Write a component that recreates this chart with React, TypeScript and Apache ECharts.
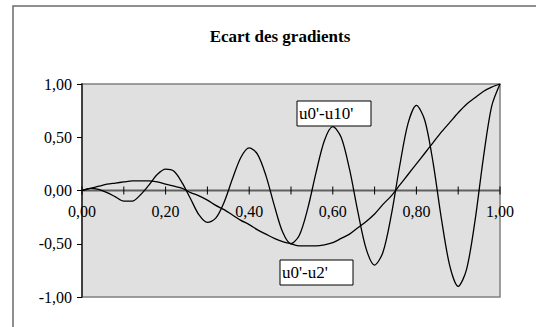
import React, { useEffect, useRef } from "react";
import * as echarts from "echarts";

const xValues = [
  0, 0.02, 0.04, 0.06, 0.08, 0.1, 0.12, 0.14, 0.16, 0.18,
  0.2, 0.22, 0.24, 0.26, 0.28, 0.3, 0.32, 0.34, 0.36, 0.38,
  0.4, 0.42, 0.44, 0.46, 0.48, 0.5, 0.52, 0.54, 0.56, 0.58,
  0.6, 0.62, 0.64, 0.66, 0.68, 0.7, 0.72, 0.74, 0.76, 0.78,
  0.8, 0.82, 0.84, 0.86, 0.88, 0.9, 0.92, 0.94, 0.96, 0.98, 1.0,
];

const u2Values = [
  0, 0.02, 0.04, 0.06, 0.07, 0.08, 0.09, 0.09, 0.09, 0.08,
  0.06, 0.04, 0.02, -0.02, -0.05, -0.09, -0.14, -0.18, -0.23, -0.28,
  -0.32, -0.37, -0.41, -0.45, -0.48, -0.5, -0.52, -0.52, -0.52, -0.51,
  -0.49, -0.45, -0.41, -0.35, -0.29, -0.22, -0.13, -0.05, 0.05, 0.15,
  0.25, 0.35, 0.45, 0.55, 0.64, 0.73, 0.81, 0.87, 0.93, 0.97, 1.0,
];

const u10Values = [
  0, 0.02, 0.01, -0.02, -0.06, -0.1, -0.1, -0.04, 0.05, 0.15,
  0.2, 0.18, 0.07, -0.08, -0.23, -0.3, -0.26, -0.11, 0.11, 0.31,
  0.4, 0.34, 0.14, -0.14, -0.39, -0.5, -0.42, -0.17, 0.17, 0.47,
  0.6, 0.5, 0.2, -0.2, -0.55, -0.7, -0.58, -0.23, 0.23, 0.63,
  0.8, 0.66, 0.26, -0.27, -0.71, -0.9, -0.74, -0.29, 0.3, 0.79, 1.0,
];

const xTickPositions = [0, 0.1, 0.2, 0.3, 0.4, 0.5, 0.6, 0.7, 0.8, 0.9, 1.0];
const xTickLabels = ["0,00", "", "0,20", "", "0,40", "", "0,60", "", "0,80", "", "1,00"];
const yTickLabels = ["-1,00", "-0,50", "0,00", "0,50", "1,00"];
const seriesNames = ["u0'-u2'", "u0'-u10'"];
const titleText = "Ecart des gradients";

const FONT = "Liberation Serif, Times New Roman, serif";

export default function App() {
  const ref = useRef<HTMLDivElement>(null);

  useEffect(() => {
    if (!ref.current) return;
    const chart = echarts.init(ref.current, null, { renderer: "svg" });
    const lineStyle = { color: "#000", width: 1.3 };
    chart.setOption({
      animation: false,
      backgroundColor: "#fff",
      textStyle: { fontFamily: FONT },
      title: {
        text: titleText,
        left: 275,
        top: 23,
        textAlign: "center",
        textStyle: { fontFamily: FONT, fontWeight: "bold", fontSize: 17, color: "#000" },
      },
      grid: {
        left: 82,
        top: 84,
        width: 418,
        height: 213,
        show: true,
        backgroundColor: "#E0E0E0",
        borderColor: "#808080",
        borderWidth: 1.5,
      },
      xAxis: {
        type: "value",
        min: 0,
        max: 1,
        interval: 0.1,
        axisLine: { show: false },
        axisTick: { show: false },
        axisLabel: { show: false },
        splitLine: { show: false },
      },
      yAxis: {
        type: "value",
        min: -1,
        max: 1,
        interval: 0.5,
        axisLine: { show: true, onZero: false, lineStyle: { color: "#404040", width: 2 } },
        axisTick: { show: true, length: 5, lineStyle: { color: "#000", width: 1 } },
        axisLabel: {
          margin: 10,
          fontFamily: FONT,
          fontSize: 16,
          color: "#000",
          formatter: (v: number) => yTickLabels[Math.round((v + 1) * 2)] ?? "",
        },
        splitLine: { show: false },
      },
      series: [
        {
          type: "custom",
          silent: true,
          z: 1,
          data: xTickPositions.map((x, i) => [x, 0, i]),
          renderItem: (params: any, api: any) => {
            const i = api.value(2);
            const p = api.coord([api.value(0), 0]);
            const children: any[] = [];
            if (i === 0) {
              const end = api.coord([xTickPositions[xTickPositions.length - 1], 0]);
              children.push({
                type: "line",
                shape: { x1: p[0], y1: p[1], x2: end[0], y2: end[1] },
                style: { stroke: "#606060", lineWidth: 2 },
              });
            }
            children.push({
              type: "line",
              shape: { x1: p[0], y1: p[1] - 4, x2: p[0], y2: p[1] + 4 },
              style: { stroke: "#000", lineWidth: 1 },
            });
            const label = xTickLabels[i];
            if (label) {
              children.push({
                type: "text",
                x: p[0],
                y: p[1] + 21,
                style: {
                  text: label,
                  fontFamily: FONT,
                  fontSize: 16,
                  fill: "#000",
                  align: "center",
                  verticalAlign: "middle",
                },
              });
            }
            return { type: "group", children };
          },
        },
        {
          name: seriesNames[0],
          type: "line",
          z: 3,
          showSymbol: false,
          smooth: 0.3,
          lineStyle,
          data: xValues.map((x, i) => [x, u2Values[i]]),
        },
        {
          name: seriesNames[1],
          type: "line",
          z: 3,
          showSymbol: false,
          smooth: 0.3,
          lineStyle,
          data: xValues.map((x, i) => [x, u10Values[i]]),
        },
      ],
      graphic: [
        {
          type: "rect",
          z: 100,
          shape: { x: 13, y: 6, width: 600, height: 400 },
          style: { fill: "none", stroke: "#6b6b6b", lineWidth: 1.5 },
        },
        {
          type: "rect",
          z: 100,
          shape: { x: 297, y: 101, width: 74, height: 25 },
          style: { fill: "#fff", stroke: "#000", lineWidth: 1 },
        },
        {
          type: "text",
          z: 101,
          x: 299,
          y: 113.5,
          style: { text: seriesNames[1], fontFamily: FONT, fontSize: 17, fill: "#000", verticalAlign: "middle" },
        },
        {
          type: "rect",
          z: 100,
          shape: { x: 280, y: 260, width: 73, height: 25 },
          style: { fill: "#fff", stroke: "#000", lineWidth: 1 },
        },
        {
          type: "text",
          z: 101,
          x: 282,
          y: 272.5,
          style: { text: seriesNames[0], fontFamily: FONT, fontSize: 17, fill: "#000", verticalAlign: "middle" },
        },
      ],
    });
    return () => chart.dispose();
  }, []);

  return <div ref={ref} style={{ position: "fixed", left: 0, top: 0, width: 536, height: 327 }} />;
}
